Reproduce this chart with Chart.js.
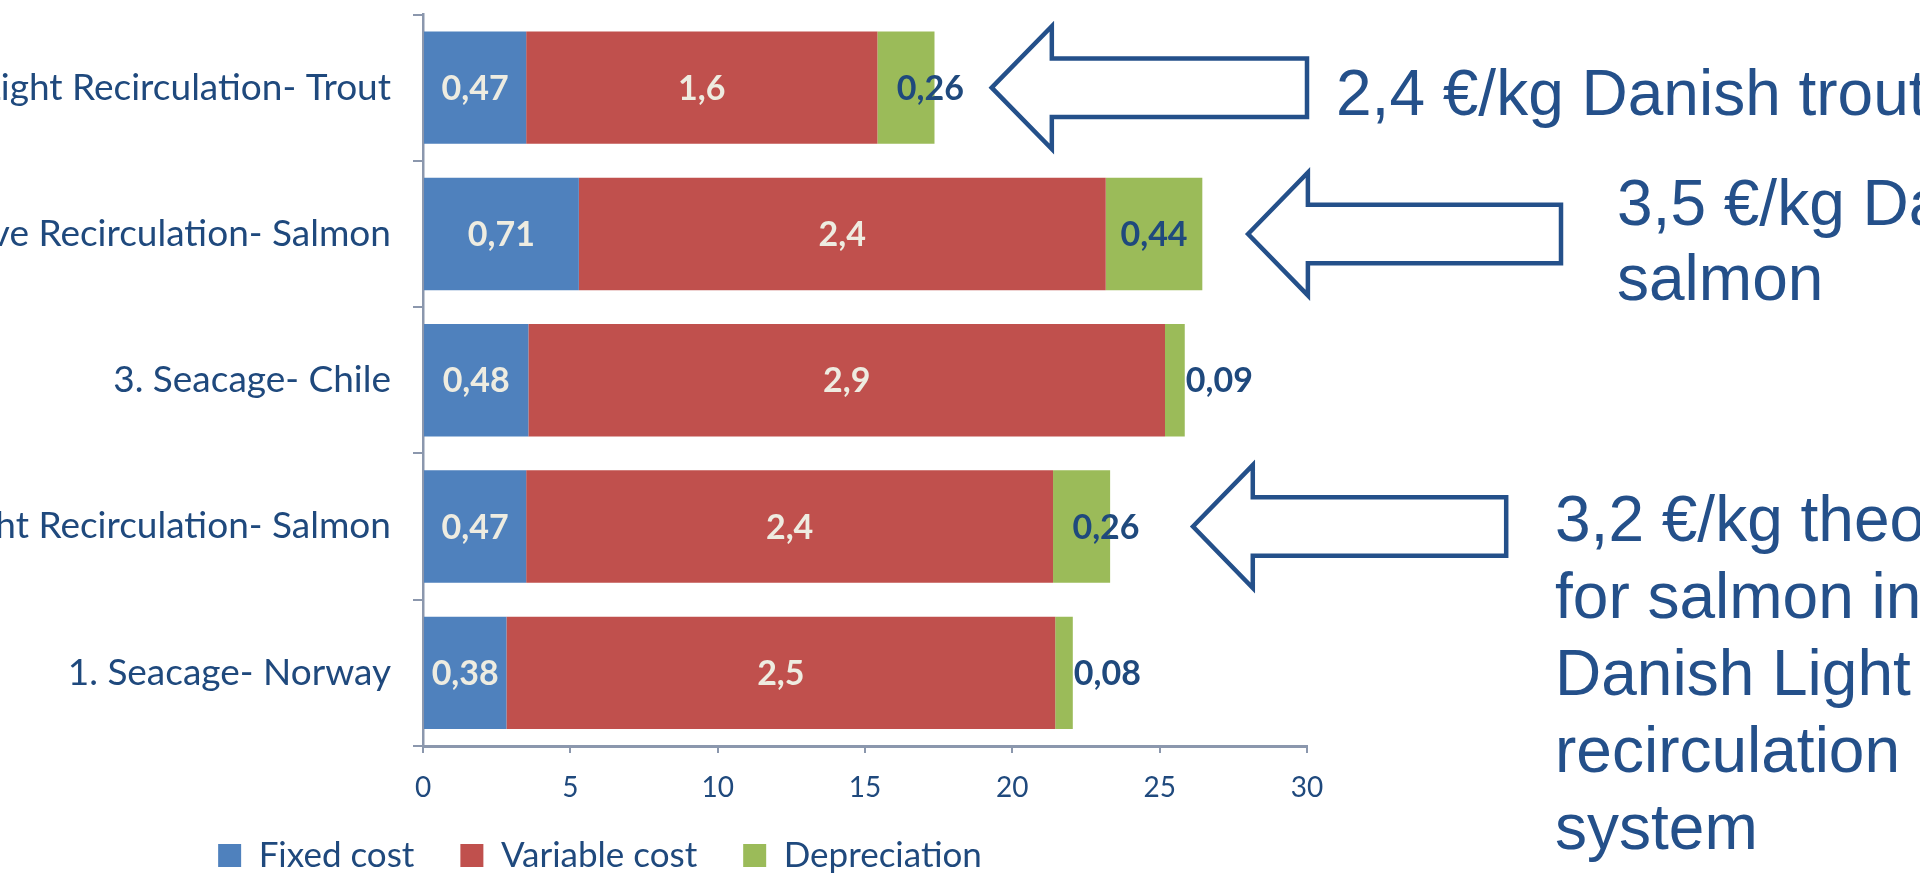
<!DOCTYPE html>
<html>
<head>
<meta charset="utf-8">
<script src="https://cdn.jsdelivr.net/npm/chart.js@4.4.0/dist/chart.umd.min.js"></script>
<style>
  html, body { margin: 0; padding: 0; width: 1920px; height: 874px; overflow: hidden; background: #ffffff; }
  #wrap { position: absolute; left: -720px; top: -26px; width: 2640px; height: 909px; }
  .note {
    position: absolute;
    font-family: "Liberation Sans", Arial, sans-serif;
    font-size: 64px;
    line-height: 76px;
    color: #24508a;
    white-space: nowrap;
  }
</style>
</head>
<body>
<div id="wrap"><canvas id="costChart"></canvas></div>
<div class="note" style="left:1336px; top:55px;">2,4 €/kg Danish trout</div>
<div class="note" style="left:1617px; top:166px; line-height:75px;">3,5 €/kg Danish<br>salmon</div>
<div class="note" style="left:1555px; top:481px; line-height:77px;">3,2 €/kg theoretical<br>for salmon in<br>Danish Light<br>recirculation<br>system</div>

<script>
// Production systems, listed top to bottom
const systems = [
  "5. Danish Light Recirculation- Trout",
  "4. Danish Intensive Recirculation- Salmon",
  "3. Seacage- Chile",
  "2. Danish Light Recirculation- Salmon",
  "1. Seacage- Norway"
];

// Cost components in €/kg
const fixedCost        = [0.47, 0.71, 0.48, 0.47, 0.38];
const variableCost     = [1.6,  2.4,  2.9,  2.4,  2.5];
const depreciationCost = [0.26, 0.44, 0.09, 0.26, 0.08];

// The axis is in DKK/kg
const DKK_PER_EUR = 7.45;
const axisTicks = [0, 5, 10, 15, 20, 25, 30];

const NAVY = "#1F497D";
const AXIS = "#8B97AD";
const CREAM = "#EEECE1";
const LABEL_FONT = "Lato, 'Open Sans', sans-serif";

const toDkk = arr => arr.map(v => v * DKK_PER_EUR);
const fmt = v => String(v).replace(".", ",");

// Value labels written on each segment
const segmentLabels = {
  id: "segmentLabels",
  afterDatasetsDraw(chart) {
    const ctx = chart.ctx;
    ctx.save();
    ctx.font = "bold 34px " + LABEL_FONT;
    ctx.textBaseline = "middle";
    ctx.textAlign = "left";
    chart.data.datasets.forEach((ds, di) => {
      const meta = chart.getDatasetMeta(di);
      meta.data.forEach((bar, i) => {
        const text = fmt(ds.eur[i]);
        const tw = ctx.measureText(text).width;
        const start = Math.min(bar.base, bar.x);
        const end = Math.max(bar.base, bar.x);
        const w = end - start;
        let left;
        if (!ds.smallLabel || w >= tw + 10) {
          left = start + (w - tw) / 2;
        } else if (w > tw / 2) {
          left = start + 0.34 * w;
        } else {
          left = end + 1;
        }
        ctx.fillStyle = ds.labelColor;
        ctx.fillText(text, left, bar.y + 1);
      });
    });
    ctx.restore();
  }
};

// Block arrows pointing at the Danish systems (positions in axis units)
const callouts = [
  { cat: 0, tip: 19.3,  neck: 21.34, tail: 30.0 },
  { cat: 1, tip: 28.0,  neck: 30.03, tail: 38.62 },
  { cat: 3, tip: 26.13, neck: 28.16, tail: 36.76 }
];

const calloutArrows = {
  id: "calloutArrows",
  afterDraw(chart) {
    const ctx = chart.ctx;
    const xs = chart.scales.x, ys = chart.scales.y;
    const band = (ys.bottom - ys.top) / systems.length;
    const head = band * 0.42, shaft = band * 0.2;
    ctx.save();
    ctx.strokeStyle = "#24508a";
    ctx.fillStyle = "#ffffff";
    ctx.lineWidth = 4.5;
    ctx.lineJoin = "miter";
    callouts.forEach(c => {
      const yc = ys.getPixelForValue(c.cat);
      const xt = xs.getPixelForValue(c.tip);
      const xn = xs.getPixelForValue(c.neck);
      const xe = xs.getPixelForValue(c.tail);
      ctx.beginPath();
      ctx.moveTo(xt, yc);
      ctx.lineTo(xn, yc - head);
      ctx.lineTo(xn, yc - shaft);
      ctx.lineTo(xe, yc - shaft);
      ctx.lineTo(xe, yc + shaft);
      ctx.lineTo(xn, yc + shaft);
      ctx.lineTo(xn, yc + head);
      ctx.closePath();
      ctx.fill();
      ctx.stroke();
    });
    ctx.restore();
  }
};

new Chart(document.getElementById("costChart"), {
  type: "bar",
  data: {
    labels: systems,
    datasets: [
      { label: "Fixed cost", eur: fixedCost, data: toDkk(fixedCost),
        backgroundColor: "#4F81BD", labelColor: CREAM, smallLabel: false },
      { label: "Variable cost", eur: variableCost, data: toDkk(variableCost),
        backgroundColor: "#C0504D", labelColor: CREAM, smallLabel: false },
      { label: "Depreciation", eur: depreciationCost, data: toDkk(depreciationCost),
        backgroundColor: "#9BBB59", labelColor: NAVY, smallLabel: true }
    ]
  },
  options: {
    indexAxis: "y",
    responsive: true,
    maintainAspectRatio: false,
    animation: false,
    layout: { padding: { top: 0, right: 613, bottom: 0, left: 613 } },
    datasets: { bar: { barPercentage: 0.768, categoryPercentage: 1, borderWidth: 0 } },
    scales: {
      x: {
        stacked: true,
        min: axisTicks[0],
        max: axisTicks[axisTicks.length - 1],
        afterBuildTicks: scale => { scale.ticks = axisTicks.map(v => ({ value: v })); },
        grid: { drawOnChartArea: false, drawTicks: true, tickLength: 7, color: AXIS, lineWidth: 2 },
        border: { display: true, color: AXIS, width: 3 },
        ticks: { color: NAVY, font: { family: LABEL_FONT, size: 28 }, padding: 18 },
        afterFit: scale => {
          // compact axis box; tick labels may run below it into the gap above the legend
          scale.height = 46;
          scale._computeLabelArea = () => undefined;
        }
      },
      y: {
        stacked: true,
        grid: { drawOnChartArea: false, drawTicks: true, tickLength: 10, color: AXIS, lineWidth: 2, offset: true },
        border: { display: true, color: AXIS, width: 2.5 },
        ticks: { color: NAVY, font: { family: LABEL_FONT, size: 37, lineHeight: 1 }, padding: 22 },
        afterFit: scale => { scale.width = 530; }
      }
    },
    plugins: {
      legend: {
        position: "bottom",
        labels: {
          color: NAVY,
          font: { family: LABEL_FONT, size: 35 },
          boxWidth: 23,
          boxHeight: 23,
          padding: 46
        }
      },
      tooltip: { enabled: false }
    }
  },
  plugins: [segmentLabels, calloutArrows]
});
</script>
</body>
</html>
